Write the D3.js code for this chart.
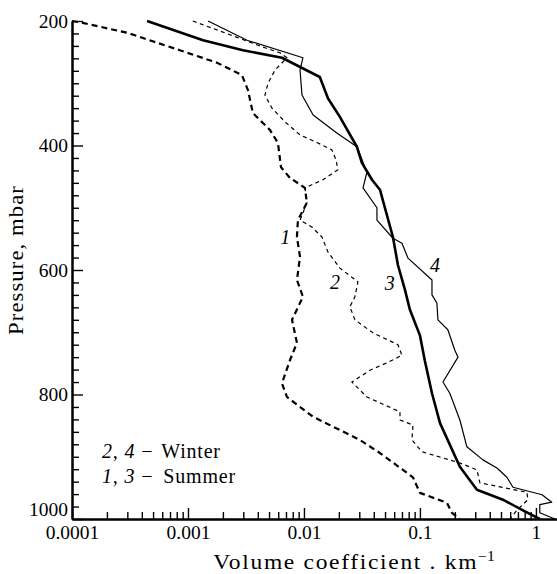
<!DOCTYPE html>
<html>
<head>
<meta charset="utf-8">
<script src="https://cdn.jsdelivr.net/npm/d3@7"></script>
<style>
  body { margin: 0; background: #fff; }
</style>
</head>
<body>
<script>
const wdth = 557;
const hght = 574;
const margin = { top: 21, right: 0, bottom: 55, left: 72 };
const serif = "Liberation Serif";

// axis ticks
const xMajorTicks = [0.0001, 0.001, 0.01, 0.1, 1];
const xTickLabels = ["0.0001", "0.001", "0.01", "0.1", "1"];
const yMajorTicks = [200, 400, 600, 800, 1000];

// curve 1 - summer (thick dashed)
const curve1Pres = [200, 203, 219, 247, 267, 287, 311, 348, 375, 396, 435, 452, 468, 492, 520, 547, 579, 616, 643, 680, 717, 745, 782, 804, 836, 857, 873, 894, 933, 958, 974, 990, 1000];
const curve1Coef = [0.0001, 0.000124, 0.0003, 0.00085, 0.00178, 0.00292, 0.00329, 0.00363, 0.00509, 0.00597, 0.00634, 0.00757, 0.0102, 0.0106, 0.00887, 0.0087, 0.00925, 0.0087, 0.0098, 0.00789, 0.0087, 0.00757, 0.00646, 0.00713, 0.012, 0.0204, 0.0304, 0.0452, 0.0871, 0.1, 0.171, 0.189, 0.221];

// curve 2 - winter (thin dashed)
const curve2Pres = [200, 222, 243, 251, 259, 279, 300, 319, 340, 362, 383, 396, 407, 423, 439, 455, 468, 492, 520, 531, 547, 571, 597, 619, 643, 659, 680, 701, 720, 737, 749, 761, 780, 804, 817, 828, 841, 849, 873, 892, 910, 921, 942, 957, 969, 986, 1000];
const curve2Coef = [0.0011, 0.0023, 0.00461, 0.00621, 0.00713, 0.00562, 0.0049, 0.00461, 0.0053, 0.00686, 0.00925, 0.0132, 0.0174, 0.0189, 0.0196, 0.0146, 0.0102, 0.0106, 0.00925, 0.0117, 0.0143, 0.0161, 0.0204, 0.0292, 0.0275, 0.0249, 0.0275, 0.0394, 0.0646, 0.07, 0.052, 0.0371, 0.0259, 0.0349, 0.0499, 0.0673, 0.0673, 0.0871, 0.0853, 0.104, 0.221, 0.31, 0.329, 0.836, 0.853, 0.685, 0.597];

// curve 3 - summer (thick solid)
const curve3Pres = [200, 231, 247, 259, 290, 324, 354, 402, 428, 455, 471, 547, 592, 632, 664, 705, 745, 798, 846, 916, 953, 969, 986, 1000];
const curve3Coef = [0.000444, 0.00135, 0.00298, 0.00646, 0.0137, 0.0161, 0.0204, 0.0286, 0.0316, 0.0386, 0.0452, 0.0585, 0.0646, 0.0743, 0.082, 0.1, 0.11, 0.127, 0.149, 0.221, 0.31, 0.52, 0.773, 1.08];

// curve 4 - winter (thin solid)
const curve4Pres = [200, 231, 259, 279, 319, 351, 380, 402, 443, 468, 500, 520, 549, 557, 581, 616, 640, 653, 680, 696, 729, 740, 780, 798, 841, 884, 905, 918, 933, 949, 961, 973, 977, 990, 1000];
const curve4Coef = [0.00149, 0.00323, 0.0098, 0.00925, 0.00962, 0.012, 0.0192, 0.0286, 0.0349, 0.0323, 0.0426, 0.0426, 0.0585, 0.07, 0.0789, 0.127, 0.127, 0.14, 0.143, 0.174, 0.2, 0.213, 0.158, 0.181, 0.221, 0.254, 0.349, 0.461, 0.562, 0.634, 1.13, 1.37, 1.08, 1.08, 1.46];

const curves = [
  { id: "1", pres: curve1Pres, coef: curve1Coef, width: 2.2, dash: "6,4" },
  { id: "2", pres: curve2Pres, coef: curve2Coef, width: 1.2, dash: "4,3.5" },
  { id: "3", pres: curve3Pres, coef: curve3Coef, width: 2.6, dash: null },
  { id: "4", pres: curve4Pres, coef: curve4Coef, width: 1.2, dash: null }
];

// curve number labels
const curveLabels = [
  { text: "1", coef: 0.0069, pres: 547 },
  { text: "2", coef: 0.0185, pres: 619 },
  { text: "3", coef: 0.055, pres: 621 },
  { text: "4", coef: 0.135, pres: 592 }
];

const legendLines = [
  { nums: "2, 4", season: "Winter" },
  { nums: "1, 3", season: "Summer" }
];

const xMinorTicks = [];
xMajorTicks.forEach((d) => {
  for (let k = 2; k <= 9; k++) {
    if (d * k <= 1.5) xMinorTicks.push(d * k);
  }
});
const yMinorTicks = d3.range(200, 1001, 20).filter((d) => d % 200 !== 0);

const x = d3
  .scaleLog()
  .domain([0.0001, 1.52])
  .range([margin.left, wdth]);

const y = d3
  .scaleLinear()
  .domain([200, 1000])
  .range([margin.top, hght - margin.bottom]);

const svg = d3
  .select("body")
  .append("svg")
  .attr("width", wdth)
  .attr("height", hght)
  .style("display", "block");

const line = d3
  .line()
  .x((d) => x(d[0]))
  .y((d) => y(d[1]));

svg
  .selectAll("path.curve")
  .data(curves)
  .enter()
  .append("path")
  .attr("class", "curve")
  .attr("d", (c) => line(c.coef.map((v, i) => [v, c.pres[i]])))
  .attr("fill", "none")
  .attr("stroke", "#000")
  .attr("stroke-width", (c) => c.width)
  .attr("stroke-dasharray", (c) => c.dash)
  .attr("stroke-linejoin", "round");

// x axis: minor then major ticks, pointing inward
const xAxisG = svg.append("g").attr("transform", "translate(0," + y(1000) + ")");
xAxisG
  .append("g")
  .call(d3.axisBottom(x).tickValues(xMinorTicks).tickSize(-7).tickSizeOuter(0).tickFormat(""));
xAxisG
  .append("g")
  .call(
    d3.axisBottom(x)
      .tickValues(xMajorTicks)
      .tickSize(-11)
      .tickSizeOuter(0)
      .tickPadding(6)
      .tickFormat((d, i) => xTickLabels[i])
  );

const yAxisG = svg.append("g").attr("transform", "translate(" + x(0.0001) + ",0)");
yAxisG
  .append("g")
  .call(d3.axisLeft(y).tickValues(yMinorTicks).tickSize(-7).tickSizeOuter(0).tickFormat(""));
yAxisG
  .append("g")
  .attr("class", "yMajor")
  .call(
    d3.axisLeft(y)
      .tickValues(yMajorTicks)
      .tickSize(-11)
      .tickSizeOuter(0)
      .tickPadding(4)
      .tickFormat(d3.format("d"))
  );

svg.selectAll(".domain").attr("stroke", "#000").attr("stroke-width", 2);
svg.selectAll(".tick line").attr("stroke", "#000").attr("stroke-width", 1.4);
svg
  .selectAll(".tick text")
  .attr("fill", "#000")
  .style("font-family", serif)
  .style("font-size", "19.5px");

// lift the bottom pressure label off the x labels
svg
  .selectAll(".yMajor .tick text")
  .filter((d) => d === 1000)
  .attr("dy", "-0.2em");

// axis titles (the original type is set wide)
const xTitle = svg
  .append("g")
  .attr("transform", "translate(354,569) scale(1.12,1)")
  .append("text")
  .attr("text-anchor", "middle")
  .style("font-family", serif)
  .style("font-size", "21px")
  .style("letter-spacing", "1.5px")
  .text("Volume coefficient .  km");
xTitle
  .append("tspan")
  .attr("dy", -8)
  .style("font-size", "14px")
  .style("letter-spacing", "0px")
  .text("\u22121");

svg
  .append("g")
  .attr("transform", "translate(23,260) rotate(-90) scale(1.08,1)")
  .append("text")
  .attr("text-anchor", "middle")
  .style("font-family", serif)
  .style("font-size", "21px")
  .style("letter-spacing", "1px")
  .text("Pressure, mbar");

// curve number labels
svg
  .selectAll("text.clabel")
  .data(curveLabels)
  .enter()
  .append("text")
  .attr("class", "clabel")
  .attr("x", (d) => x(d.coef))
  .attr("y", (d) => y(d.pres))
  .attr("text-anchor", "middle")
  .attr("dy", "0.35em")
  .style("font-family", serif)
  .style("font-style", "italic")
  .style("font-size", "20px")
  .text((d) => d.text);

// legend
const legend = svg.append("g").attr("transform", "translate(102,458)");
legendLines.forEach((d, i) => {
  const t = legend
    .append("text")
    .attr("y", i * 25)
    .style("font-family", serif)
    .style("font-size", "20px")
    .style("letter-spacing", "0.8px");
  t.append("tspan").style("font-style", "italic").text(d.nums);
  t.append("tspan").attr("dx", 6).text("\u2212");
  t.append("tspan").attr("dx", i === 0 ? 8 : 10).text(d.season);
});
</script>
</body>
</html>
